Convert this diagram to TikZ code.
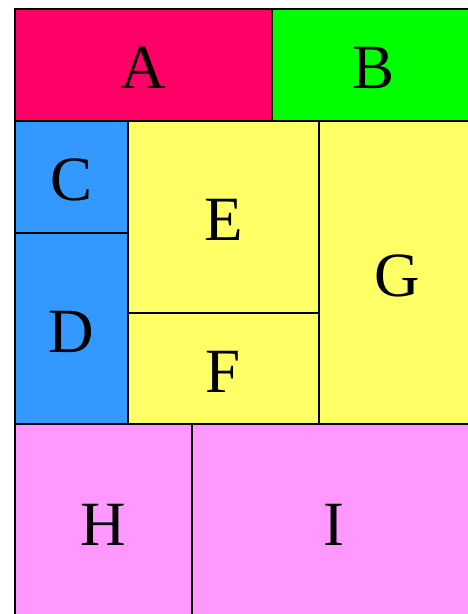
\documentclass[tikz,border=0pt]{standalone}
\usepackage{fontspec}
\setmainfont{Liberation Serif}
\definecolor{cA}{HTML}{FF0066}
\definecolor{cB}{HTML}{00FF00}
\definecolor{cC}{HTML}{3399FF}
\definecolor{cE}{HTML}{FFFF66}
\definecolor{cH}{HTML}{FF99FF}
\begin{document}
\begin{tikzpicture}[x=1pt,y=-1pt,
  cell/.style={rectangle, inner sep=0pt, outer sep=0pt,
    font=\fontsize{63}{63}\selectfont, text height=47pt, text depth=0pt},
  border/.style={draw=black, line width=2pt}]
\useasboundingbox (0,0) rectangle (468,614);
\clip (0,0) rectangle (468,614);
\node[cell, fill=cA, minimum width=257pt, minimum height=112pt] (A) at (143.5,65) {A};
\node[cell, fill=cB, minimum width=204pt, minimum height=112pt] (B) at (374,65) {B};
\node[cell, fill=cC, minimum width=113pt, minimum height=112pt] (C) at (71.5,177) {C};
\node[cell, fill=cC, minimum width=113pt, minimum height=191pt] (D) at (71.5,328.5) {D};
\node[cell, fill=cE, minimum width=191pt, minimum height=192pt] (E) at (223.5,217) {E};
\node[cell, fill=cE, minimum width=191pt, minimum height=111pt] (F) at (223.5,368.5) {F};
\node[cell, fill=cE, minimum width=157pt, minimum height=303pt] (G) at (397.5,272.5) {G};
\node[cell, fill=cH, minimum width=177pt, minimum height=196pt] (H) at (103.5,522) {H};
\node[cell, fill=cH, minimum width=284pt, minimum height=196pt] (I) at (334,522) {I};
\foreach \n in {A,B,C,D,E,F,G,H,I}
  \draw[border] (\n.north west) rectangle (\n.south east);
\end{tikzpicture}
\end{document}
